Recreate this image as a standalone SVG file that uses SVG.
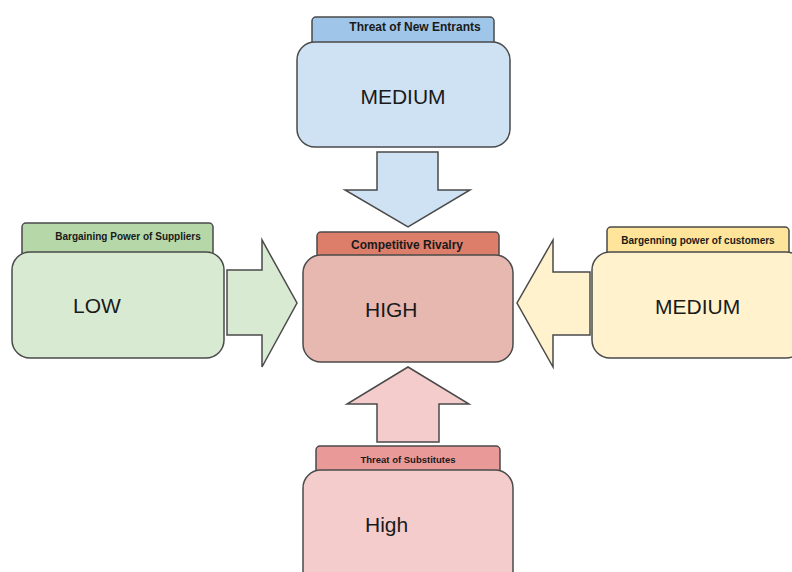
<svg xmlns="http://www.w3.org/2000/svg" width="792" height="572" viewBox="0 0 792 572">
<style>
.s{stroke:#4a4a4a;stroke-width:1.5}
.lbl{font-family:"Liberation Sans",Arial,sans-serif;font-weight:bold;fill:#1a1a1a;text-anchor:middle}
.big{font-family:"Liberation Sans",Arial,sans-serif;font-size:21px;fill:#1a1a1a}
</style>
<rect width="792" height="572" fill="#ffffff"/>
<g id="connectors">
<polygon class="s" fill="#cfe2f3" points="377,152 438,152 438,190 470,190 408,227 345,190 377,190"/>
<polygon class="s" fill="#d9ead3" points="227,270 262,270 262,240 297,303 262,367 262,335 227,335"/>
<polygon class="s" fill="#fff2cc" points="590,272 553,272 553,240 517,303 553,367 553,335 590,335"/>
<polygon class="s" fill="#f4cccc" points="377,442 377,404 347,404 408,367 469,404 439,404 439,442"/>
</g>
<g id="new-entrants">
<rect class="s" x="312" y="17" width="182" height="34" rx="4" fill="#9fc5e8"/>
<rect class="s" x="297" y="42" width="213" height="105" rx="18" fill="#cfe2f3"/>
<text class="lbl" x="415" y="31" font-size="12">Threat of New Entrants</text>
<text class="big" x="403" y="104" text-anchor="middle">MEDIUM</text>
</g>
<g id="suppliers">
<rect class="s" x="22" y="223" width="191" height="38" rx="4" fill="#b6d7a8"/>
<rect class="s" x="12" y="252" width="212" height="106" rx="18" fill="#d9ead3"/>
<text class="lbl" x="128" y="240" font-size="10">Bargaining Power of Suppliers</text>
<text class="big" x="73" y="313">LOW</text>
</g>
<g id="rivalry">
<rect class="s" x="317" y="232" width="182" height="32" rx="4" fill="#dd7e6b"/>
<rect class="s" x="303" y="255" width="210" height="107" rx="18" fill="#e6b8af"/>
<text class="lbl" x="407" y="249" font-size="12">Competitive Rivalry</text>
<text class="big" x="365" y="317">HIGH</text>
</g>
<g id="customers">
<rect class="s" x="607" y="227" width="182" height="34" rx="4" fill="#ffe599"/>
<rect class="s" x="592" y="252" width="212" height="106" rx="18" fill="#fff2cc"/>
<text class="lbl" x="698" y="244" font-size="10">Bargenning power of customers</text>
<text class="big" x="655" y="314">MEDIUM</text>
</g>
<g id="substitutes">
<rect class="s" x="316" y="446" width="184" height="32" rx="4" fill="#ea9999"/>
<rect class="s" x="303" y="470" width="210" height="120" rx="18" fill="#f4cccc"/>
<text class="lbl" x="408" y="463" font-size="9.5">Threat of Substitutes</text>
<text class="big" x="365" y="532">High</text>
</g>
</svg>
